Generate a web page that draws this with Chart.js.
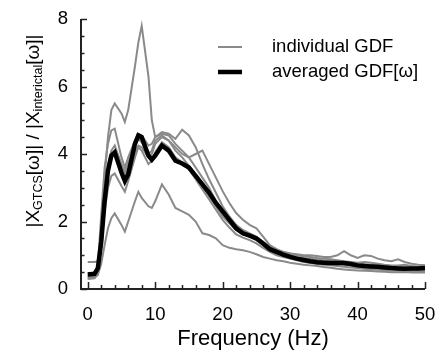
<!DOCTYPE html>
<html>
<head>
<meta charset="utf-8">
<script src="https://cdn.jsdelivr.net/npm/chart.js@4.4.1/dist/chart.umd.min.js"></script>
<style>
  html, body { margin:0; padding:0; background:#fff; }
</style>
</head>
<body>
<canvas id="c" width="436" height="356"></canvas>
<script>
// frequency samples (Hz)
const freq = [0,1,1.5,2,2.5,3,3.5,4,5,5.5,6,7,7.5,8,9,9.5,10,
  11,12,13,14,15,16,17,18,19,20,21,22,23,24,25,26,27,28,29,30,
  31,32,33,34,35,36,37,38,39,40,41,42,43,44,45,46,47,48,49,50];

// averaged GDF
const avgGdf = [0.43,0.45,0.62,1.4,2.6,3.5,3.95,4.05,3.45,3.2,3.4,4.3,4.55,4.5,3.95,3.83,3.95,
  4.25,4.1,3.8,3.72,3.6,3.35,3.1,2.85,2.55,2.3,
  2.05,1.8,1.65,1.58,1.5,1.35,1.18,1.1,1.02,0.95,
  0.9,0.86,0.82,0.79,0.78,0.77,0.77,0.77,0.74,0.7,
  0.68,0.67,0.66,0.64,0.62,0.61,0.6,0.61,0.61,0.62];

// individual GDF curves
const gdfA = [0.35,0.38,0.6,1.8,3.3,4.5,5.3,5.5,5.2,4.95,5.3,6.6,7.3,7.8,6.3,5.0,4.5,
  4.6,4.55,4.3,4.1,3.9,3.6,3.3,3.0,2.6,2.3,
  2.05,1.85,1.7,1.6,1.5,1.35,1.2,1.1,1.05,1.0,
  0.95,0.92,0.9,0.87,0.85,0.84,0.82,0.8,0.78,0.76,
  0.74,0.72,0.7,0.69,0.68,0.68,0.66,0.65,0.65,0.64];
const gdfB = [0.4,0.42,0.7,2.2,3.6,4.3,4.7,4.75,3.9,3.6,3.9,4.4,4.6,4.55,4.25,4.3,4.5,
  4.65,4.6,4.45,4.72,4.55,4.2,3.7,3.25,2.85,2.45,
  2.15,1.9,1.75,1.65,1.55,1.4,1.25,1.15,1.1,1.05,
  1.0,0.97,0.95,0.92,0.9,0.88,0.85,0.82,0.8,0.78,
  0.8,0.78,0.75,0.72,0.7,0.7,0.72,0.68,0.66,0.66];
const gdfC = [0.8,0.8,0.82,1.5,2.8,3.7,4.1,4.25,3.7,3.45,3.75,4.25,4.45,4.35,4.0,4.1,4.4,
  4.55,4.4,4.1,3.9,3.65,3.35,3.05,2.75,2.45,2.15,
  1.95,1.75,1.62,1.55,1.45,1.3,1.15,1.05,1.0,0.95,
  0.9,0.86,0.82,0.8,0.78,0.76,0.74,0.72,0.7,0.66,
  0.64,0.62,0.6,0.58,0.57,0.56,0.56,0.57,0.56,0.55];
const gdfD = [0.3,0.32,0.5,1.2,2.3,3.0,3.35,3.42,3.05,2.88,3.2,3.9,4.2,4.1,3.7,3.8,4.05,
  4.35,4.2,3.9,3.75,3.55,3.25,2.95,2.65,2.35,2.05,
  1.82,1.62,1.52,1.45,1.35,1.22,1.1,1.0,0.95,0.9,
  0.85,0.8,0.77,0.74,0.72,0.7,0.68,0.66,0.64,0.62,
  0.6,0.58,0.57,0.56,0.55,0.54,0.53,0.53,0.52,0.52];
const gdfE = [0.3,0.33,0.42,0.75,1.3,1.8,2.1,2.24,1.9,1.7,2.0,2.6,2.88,2.7,2.45,2.4,2.6,
  3.1,2.8,2.4,2.3,2.2,2.0,1.65,1.6,1.5,1.3,
  1.22,1.18,1.15,1.1,1.03,0.95,0.9,0.85,0.82,0.78,
  0.75,0.72,0.7,0.68,0.65,0.63,0.6,0.58,0.56,0.55,
  0.54,0.53,0.52,0.51,0.5,0.5,0.5,0.49,0.49,0.49];
const gdfF = [0.35,0.38,0.55,1.6,2.9,3.6,3.9,4.0,3.5,3.3,3.55,4.05,4.25,4.2,3.9,4.0,4.3,
  4.5,4.4,4.2,4.0,3.9,4.0,4.1,3.7,3.3,2.9,
  2.55,2.25,2.05,1.9,1.8,1.55,1.3,1.18,1.1,1.05,
  1.03,1.0,1.0,0.98,0.95,0.95,1.0,1.12,1.0,0.92,
  1.0,0.98,0.9,0.85,0.82,0.88,0.8,0.75,0.72,0.7];

const individual = [gdfA, gdfB, gdfC, gdfD, gdfE, gdfF];

// axis ticks
const xLabelTicks = [0,10,20,30,40,50];
const xMarkTicks = [0,2,4,6,8,10,12,14,16,18,20,22,24,26,28,30,32,34,36,38,40,42,44,46,48,50];
const yLabelTicks = [0,2,4,6,8];
const yMarkTicks = [0,0.5,1,1.5,2,2.5,3,3.5,4,4.5,5,5.5,6,6.5,7,7.5,8];

const grayLabel = 'individual GDF';
const avgLabel = 'averaged GDF[\u03c9]';

const FONT = "'Liberation Sans', Arial, sans-serif";
const GRAY = '#8a8a8a';

const toPts = arr => arr.map((v, i) => ({ x: freq[i], y: v }));

const datasets = [{
  label: avgLabel, data: toPts(avgGdf),
  borderColor: '#000', borderWidth: 4.5, pointRadius: 0, tension: 0
}];
individual.forEach(s => datasets.push({
  label: grayLabel, data: toPts(s),
  borderColor: GRAY, borderWidth: 2, pointRadius: 0, tension: 0
}));

// axes lines + inward tick marks
const axisMarks = {
  id: 'axisMarks',
  afterDraw(chart) {
    const { ctx, chartArea: a, scales: { x, y } } = chart;
    ctx.save();
    ctx.strokeStyle = '#222';
    ctx.lineWidth = 2;
    ctx.beginPath();
    ctx.moveTo(a.left, a.top); ctx.lineTo(a.left, a.bottom); ctx.lineTo(a.right, a.bottom);
    ctx.stroke();
    ctx.lineWidth = 1.5;
    ctx.beginPath();
    xMarkTicks.forEach(v => {
      const px = Math.round(x.getPixelForValue(v)) + 0.5;
      const len = v % 10 === 0 ? 7 : 4;
      ctx.moveTo(px, a.bottom); ctx.lineTo(px, a.bottom - len);
    });
    yMarkTicks.forEach(v => {
      const py = Math.round(y.getPixelForValue(v)) + 0.5;
      const len = v % 2 === 0 ? 6 : 3.5;
      ctx.moveTo(a.left, py); ctx.lineTo(a.left + len, py);
    });
    ctx.stroke();
    ctx.restore();
  }
};

// legend in upper right
const legendBox = {
  id: 'legendBox',
  afterDraw(chart) {
    const { ctx } = chart;
    ctx.save();
    ctx.font = '18.5px ' + FONT;
    ctx.fillStyle = '#000';
    ctx.textBaseline = 'middle';
    ctx.strokeStyle = GRAY; ctx.lineWidth = 2;
    ctx.beginPath(); ctx.moveTo(218, 47); ctx.lineTo(242, 47); ctx.stroke();
    ctx.fillText(grayLabel, 272, 47);
    ctx.strokeStyle = '#000'; ctx.lineWidth = 4.5;
    ctx.beginPath(); ctx.moveTo(218, 72); ctx.lineTo(242, 72); ctx.stroke();
    ctx.fillText(avgLabel, 272, 72);
    ctx.restore();
  }
};

// y title with subscripts
const yTitle = {
  id: 'yTitle',
  afterDraw(chart) {
    const { ctx } = chart;
    const parts = [
      ['|X', false], ['GTCS', true], ['[\u03c9]| / |X', false], ['interictal', true], ['[\u03c9]|', false]
    ];
    const big = '19px ' + FONT, small = '12.5px ' + FONT;
    ctx.save();
    let total = 0;
    parts.forEach(p => { ctx.font = p[1] ? small : big; total += ctx.measureText(p[0]).width; });
    ctx.translate(39, 131 + total / 2);
    ctx.rotate(-Math.PI / 2);
    ctx.fillStyle = '#000';
    ctx.textBaseline = 'alphabetic';
    let cx = 0;
    parts.forEach(p => {
      ctx.font = p[1] ? small : big;
      ctx.fillText(p[0], cx, p[1] ? 3 : 0);
      cx += ctx.measureText(p[0]).width;
    });
    ctx.restore();
  }
};

const tickFont = { family: FONT, size: 18.5 };
const noPad = s => { s.paddingLeft = 0; s.paddingRight = 0; s.paddingTop = 0; s.paddingBottom = 0; };

new Chart(document.getElementById('c').getContext('2d'), {
  type: 'line',
  data: { datasets },
  options: {
    responsive: false,
    animation: false,
    layout: { padding: { left: 0, top: 19, right: 11, bottom: 0 } },
    plugins: { legend: { display: false }, tooltip: { enabled: false } },
    scales: {
      x: {
        type: 'linear', min: -1, max: 50,
        afterBuildTicks: s => { s.ticks = xLabelTicks.map(v => ({ value: v })); },
        afterFit: s => { s.height = 67; noPad(s); },
        ticks: { font: tickFont, color: '#000', padding: 15, maxRotation: 0, autoSkip: false },
        grid: { display: false, drawTicks: false },
        border: { display: false },
        title: { display: true, text: 'Frequency (Hz)', color: '#000',
          font: { family: FONT, size: 22 }, padding: { top: 0, bottom: 4 } }
      },
      y: {
        type: 'linear', min: 0, max: 8,
        afterBuildTicks: s => { s.ticks = yLabelTicks.map(v => ({ value: v })); },
        afterFit: s => { s.width = 81; noPad(s); },
        ticks: { font: tickFont, color: '#000', padding: 13 },
        grid: { display: false, drawTicks: false },
        border: { display: false }
      }
    }
  },
  plugins: [axisMarks, legendBox, yTitle]
});
</script>
</body>
</html>
